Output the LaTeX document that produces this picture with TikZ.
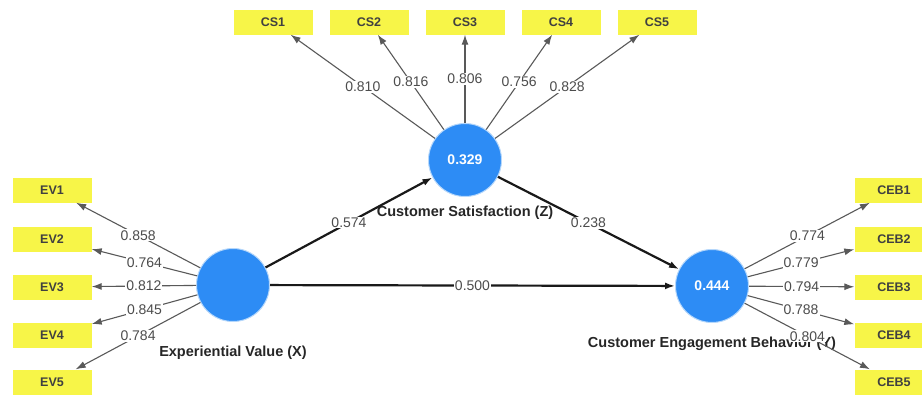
\documentclass[tikz,border=0pt]{standalone}
\usepackage{fontspec}
\setmainfont{Liberation Sans}
\usetikzlibrary{positioning,arrows.meta}
\definecolor{lvblue}{RGB}{45,140,245}
\definecolor{indyellow}{RGB}{247,245,72}
\tikzset{%
  font=\fontsize{14}{16}\selectfont,>={Latex[length=10pt,width=7pt]},
  lv/.style    = {circle, fill=lvblue, draw=lvblue!35, line width=1pt, minimum size=73pt,
                  inner sep=0pt, text=white, font=\fontsize{14}{16}\selectfont\bfseries},
  lvname/.style= {inner sep=0pt, text=black!85, font=\fontsize{14.5}{16}\selectfont\bfseries},
  ind/.style   = {rectangle, fill=indyellow, minimum width=79pt, minimum height=25pt,
                  inner sep=0pt, text=black!75, font=\fontsize{12.5}{14}\selectfont\bfseries},
  load/.style  = {draw=black!65, line width=1.1pt, ->},
  path/.style  = {draw=black!90, line width=2.2pt, ->},
  ld/.style    = {midway, fill=white, inner sep=1pt, text=black!70,
                  font=\fontsize{14}{16}\selectfont}
}
\begin{document}
\begin{tikzpicture}[x=1pt,y=-1pt]
  \useasboundingbox (0,0) rectangle (922,397);
  % latent variables
  \node[lv] (ev)  at (233,285) {};
  \node[lv] (cs)  at (465,160) {0.329};
  \node[lv] (ceb) at (712,286) {0.444};
  \node[lvname,below=24pt of ev]  (evname)  {Experiential Value (X)};
  \node[lvname,below=9pt of cs]   (csname)  {Customer Satisfaction (Z)};
  \node[lvname,below=14pt of ceb] (cebname) {Customer Engagement Behavior (Y)};
  % indicators
  \node[ind] (ev1) at (52,190) {EV1};
  \node[ind] (ev2) at (52,239) {EV2};
  \node[ind] (ev3) at (52,287) {EV3};
  \node[ind] (ev4) at (52,335) {EV4};
  \node[ind] (ev5) at (52,382) {EV5};
  \node[ind] (cs1) at (273,22) {CS1};
  \node[ind] (cs2) at (369,22) {CS2};
  \node[ind] (cs3) at (465,22) {CS3};
  \node[ind] (cs4) at (561,22) {CS4};
  \node[ind] (cs5) at (657,22) {CS5};
  \node[ind] (ceb1) at (894,190) {CEB1};
  \node[ind] (ceb2) at (894,239) {CEB2};
  \node[ind] (ceb3) at (894,287) {CEB3};
  \node[ind] (ceb4) at (894,335) {CEB4};
  \node[ind] (ceb5) at (894,382) {CEB5};
  % outer loadings
  \path[load] (ev) -- (ev1) node[ld] {0.858};
  \path[load] (ev) -- (ev2) node[ld] {0.764};
  \path[load] (ev) -- (ev3) node[ld] {0.812};
  \path[load] (ev) -- (ev4) node[ld] {0.845};
  \path[load] (ev) -- (ev5) node[ld] {0.784};
  \path[load] (cs) -- (cs1) node[ld] {0.810};
  \path[load] (cs) -- (cs2) node[ld] {0.816};
  \path[load] (cs) -- (cs3) node[ld] {0.806};
  \path[load] (cs) -- (cs4) node[ld] {0.756};
  \path[load] (cs) -- (cs5) node[ld] {0.828};
  \path[load] (ceb) -- (ceb1) node[ld] {0.774};
  \path[load] (ceb) -- (ceb2) node[ld] {0.779};
  \path[load] (ceb) -- (ceb3) node[ld] {0.794};
  \path[load] (ceb) -- (ceb4) node[ld] {0.788};
  \path[load] (ceb) -- (ceb5) node[ld] {0.804};
  % path coefficients
  \path[path] (ev) -- (cs)  node[ld] {0.574};
  \path[path] (cs) -- (ceb) node[ld] {0.238};
  \path[path] (ev) -- (ceb) node[ld] {0.500};
\end{tikzpicture}
\end{document}
